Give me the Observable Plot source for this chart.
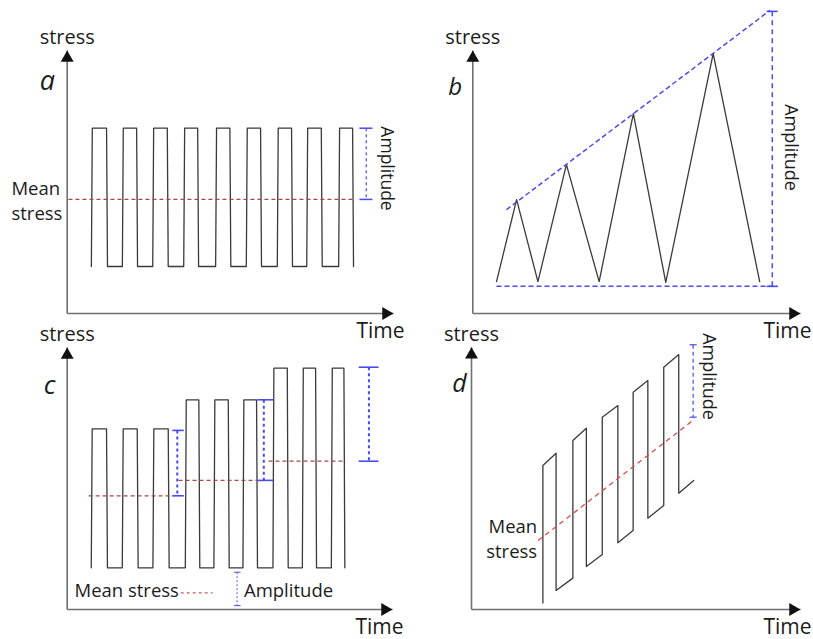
<!DOCTYPE html>
<html><head><meta charset="utf-8">
<script src="https://cdn.jsdelivr.net/npm/d3@7"></script>
<script src="https://cdn.jsdelivr.net/npm/@observablehq/plot@0.6"></script>
<style>
body{margin:0;background:#fff;}
#fig{position:relative;width:813px;height:639px;overflow:hidden;background:#fff;}
</style></head><body><div id="fig"></div>
<script>
// ---------------- DATA ----------------
// Panel a: constant-amplitude square wave (time in cycles, stress normalised)
const aRise = [0.81, 1.81, 2.79, 3.79, 4.82, 5.81, 6.81, 7.76, 8.79];
const aFall = [1.27, 2.24, 3.23, 4.21, 5.25, 6.24, 7.24, 8.20, 9.21];
const aTop = 1, aBottom = -1, aMean = -0.03;
const aMeanSpan = [0.04, 9.2];
const aAmpT = 9.65, aAmpCap = [9.43, 9.85];

// Panel b: triangular wave with growing peaks
const bT = [0.79, 1.46, 2.17, 3.12, 4.21, 5.35, 6.43, 8.01, 9.56];
const bS = [0.04, 3.62, 0.04, 5.15, 0.04, 7.38, 0, 10.0, 0.04];
const bEnvT = [1.12, 9.9], bEnvS = [3.18, 11.89];
const bBase = -0.17, bBaseSpan = [0.79, 10.15];
const bAmpT = 9.98, bAmpTop = 11.85, bAmpCap = [9.79, 10.16];

// Panel c: block loading, three stress levels
const cRise = [0.806, 1.806, 2.794, 3.839, 4.761, 5.697, 6.665, 7.613, 8.548];
const cFall = [1.268, 2.258, 3.258, 4.245, 5.194, 6.106, 7.097, 8.010, 8.923];
const cTop = [6.95, 6.95, 6.95, 8.4, 8.4, 8.4, 9.98, 9.98, 9.98];
const cBottom = 0;
const cMeanLevel = [3.6, 4.37, 5.33];
const cMeanFrom = [0.69, 3.59, 6.49];
const cMeanTo = [3.43, 6.14, 8.98];
const cAmpT = [3.55, 6.34, 9.73];
const cAmpTop = [6.87, 8.4, 10.03];
const cAmpCapL = [3.39, 6.13, 9.40];
const cAmpCapR = [3.76, 6.65, 10.04];

// Panel d: square wave on a rising mean
const dT = [2.38, 2.38, 2.82, 2.82, 3.38, 3.38, 3.83, 3.83, 4.36, 4.36, 4.88, 4.88, 5.39, 5.39, 5.88, 5.88, 6.41, 6.41, 6.91, 6.91, 7.41];
const dS = [0.32, 7.2, 7.82, 0.95, 1.57, 8.45, 9.07, 2.15, 2.75, 9.62, 10.2, 3.34, 3.95, 10.87, 11.45, 4.57, 5.2, 12.12, 12.75, 5.82, 6.45];
const dMeanT = [2.22, 7.41], dMeanS = [3.45, 9.49];
const dAmpT = 7.39, dAmpS = [13.24, 9.62], dAmpCap = [7.27, 7.51];

// labels
const panelLetters = ["a", "b", "c", "d"];
const axisY = "stress", axisX = "Time";
const meanLabel = "Mean stress", ampLabel = "Amplitude";

// ---------------- STYLE ----------------
const FONT = "'Open Sans', 'DejaVu Sans', sans-serif";
const INK = "#1c1c1c", WAVE = "#3a3a3a", AXIS = "#707070";
const BLUE = "#4a4af2", BROWN = "#a84848", RED = "#dd4a4a";

function square(rise, fall, top, bottom, slant) {
  const pts = [];
  rise.forEach((r, i) => {
    const hi = Array.isArray(top) ? top[i] : top;
    pts.push({t: r - slant, s: bottom}, {t: r, s: hi}, {t: fall[i], s: hi}, {t: fall[i] + slant, s: bottom});
  });
  return pts;
}

function axes(xMax, yMin, yMax, letter, lx, ly, letterSize) {
  return [
    Plot.link([{x1: 0, y1: yMin, x2: 0, y2: yMax}], {x1: "x1", y1: "y1", x2: "x2", y2: "y2", stroke: AXIS, strokeWidth: 1.6}),
    Plot.link([{x1: 0, y1: yMin, x2: xMax, y2: yMin}], {x1: "x1", y1: "y1", x2: "x2", y2: "y2", stroke: AXIS, strokeWidth: 1.6}),
    Plot.dot([{x: 0, y: yMax}], {x: "x", y: "y", symbol: "triangle", r: 4.8, fill: "#111", stroke: "none", dy: 7.5}),
    Plot.dot([{x: xMax, y: yMin}], {x: "x", y: "y", symbol: "triangle", r: 4.8, fill: "#111", stroke: "none", rotate: 90, dx: -7.5}),
    Plot.text([axisY], {x: () => 0, y: () => yMax, text: d => d, dy: -13, fontSize: 20, fill: INK, fontFamily: FONT}),
    Plot.text([axisX], {x: () => xMax, y: () => yMin, text: d => d, dx: -13, dy: 18, fontSize: 21, fill: INK, fontFamily: FONT}),
    Plot.text([letter], {x: () => lx, y: () => ly, text: d => d, fontSize: letterSize, fontStyle: "italic", fill: INK, fontFamily: FONT})
  ];
}

function panel(o) {
  const svg = Plot.plot({
    width: o.width, height: o.height,
    marginLeft: o.ml, marginRight: o.mr, marginTop: o.mt, marginBottom: o.mb,
    x: {domain: o.xd, axis: null},
    y: {domain: o.yd, axis: null},
    style: {position: "absolute", left: o.left + "px", top: o.top + "px", overflow: "visible", background: "transparent", fontFamily: FONT},
    marks: o.marks
  });
  document.getElementById("fig").appendChild(svg);
}

const lk = {x1: "x1", y1: "y1", x2: "x2", y2: "y2"};

// ---------------- PANEL A ----------------
{
  const xd = [0, 10.53], yd = [-1.68, 2.124];
  panel({left: 0, top: 0, width: 410, height: 320, ml: 66.7, mr: 17, mt: 50, mb: 7, xd, yd, marks: [
    ...axes(xd[1], yd[0], yd[1], panelLetters[0], -0.64, 1.675, 27),
    Plot.line(square(aRise, aFall, aTop, aBottom, 0.03), {x: "t", y: "s", stroke: WAVE, strokeWidth: 1.3}),
    Plot.link([{x1: aMeanSpan[0], y1: aMean, x2: aMeanSpan[1], y2: aMean}], {...lk, stroke: BROWN, strokeWidth: 1.2, strokeDasharray: "4,3"}),
    Plot.link([{x1: aAmpT, y1: aTop, x2: aAmpT, y2: aMean}], {...lk, stroke: BLUE, strokeWidth: 1.2, strokeDasharray: "3,3"}),
    Plot.link([aTop, aMean].map(v => ({x1: aAmpCap[0], y1: v, x2: aAmpCap[1], y2: v})), {...lk, stroke: BLUE, strokeWidth: 1.5}),
    Plot.text([ampLabel], {x: () => 10.32, y: () => 0.417, text: d => d, rotate: 90, fontSize: 17.5, fill: INK, fontFamily: FONT}),
    Plot.text(["Mean\nstress"], {x: () => -1.8, y: () => aMean, text: d => d, textAnchor: "start", lineHeight: 1.35, fontSize: 18.5, fill: INK, fontFamily: FONT})
  ]});
}

// ---------------- PANEL B ----------------
{
  const xd = [0, 10.92], yd = [-1.356, 10.14];
  panel({left: 406, top: 0, width: 407, height: 320, ml: 66.3, mr: 13, mt: 50, mb: 7, xd, yd, marks: [
    ...axes(xd[1], yd[0], yd[1], panelLetters[1], -0.59, 8.53, 24),
    Plot.line(bT.map((t, i) => ({t, s: bS[i]})), {x: "t", y: "s", stroke: WAVE, strokeWidth: 1.3}),
    Plot.link([{x1: bEnvT[0], y1: bEnvS[0], x2: bEnvT[1], y2: bEnvS[1]}], {...lk, stroke: BLUE, strokeWidth: 1.5, strokeDasharray: "5,3"}),
    Plot.link([{x1: bBaseSpan[0], y1: bBase, x2: bBaseSpan[1], y2: bBase}], {...lk, stroke: BLUE, strokeWidth: 1.5, strokeDasharray: "5,3"}),
    Plot.link([{x1: bAmpT, y1: bBase, x2: bAmpT, y2: bAmpTop}], {...lk, stroke: BLUE, strokeWidth: 1.5, strokeDasharray: "5,4"}),
    Plot.link([bAmpTop, bBase].map(v => ({x1: bAmpCap[0], y1: v, x2: bAmpCap[1], y2: v})), {...lk, stroke: BLUE, strokeWidth: 1.6}),
    Plot.text([ampLabel], {x: () => 10.59, y: () => 5.9, text: d => d, rotate: 90, fontSize: 18, fill: INK, fontFamily: FONT})
  ]});
}

// ---------------- PANEL C ----------------
{
  const xd = [0, 10.49], yd = [-2.085, 11.015];
  const means = cMeanLevel.map((v, i) => ({x1: cMeanFrom[i], y1: v, x2: cMeanTo[i], y2: v}));
  const ampV = cAmpT.map((t, i) => ({x1: t, y1: cAmpTop[i], x2: t, y2: cMeanLevel[i]}));
  const ampC = cAmpT.flatMap((t, i) => [cAmpTop[i], cMeanLevel[i]].map(v => ({x1: cAmpCapL[i], y1: v, x2: cAmpCapR[i], y2: v})));
  panel({left: 0, top: 320, width: 410, height: 319, ml: 66.7, mr: 18, mt: 27, mb: 30, xd, yd, marks: [
    ...axes(xd[1], yd[0], yd[1], panelLetters[2], -0.57, 9.12, 26),
    Plot.line(square(cRise, cFall, cTop, cBottom, 0.03), {x: "t", y: "s", stroke: WAVE, strokeWidth: 1.3}),
    Plot.link(means, {...lk, stroke: BROWN, strokeWidth: 1.2, strokeDasharray: "4,3"}),
    Plot.link(ampV, {...lk, stroke: BLUE, strokeWidth: 2, strokeDasharray: "3,3"}),
    Plot.link(ampC, {...lk, stroke: BLUE, strokeWidth: 1.6}),
    // legend
    Plot.text([meanLabel], {x: () => 0.235, y: () => -1.14, text: d => d, textAnchor: "start", fontSize: 18.5, fill: INK, fontFamily: FONT}),
    Plot.link([{x1: 3.66, y1: -1.25, x2: 4.69, y2: -1.25}], {...lk, stroke: "#c06060", strokeWidth: 1.2, strokeDasharray: "3,3"}),
    Plot.link([{x1: 5.48, y1: -0.22, x2: 5.48, y2: -1.89}], {...lk, stroke: BLUE, strokeWidth: 0.9, strokeDasharray: "2,2"}),
    Plot.link([-0.22, -1.89].map(v => ({x1: 5.38, y1: v, x2: 5.59, y2: v})), {...lk, stroke: BLUE, strokeWidth: 1}),
    Plot.text([ampLabel], {x: () => 5.70, y: () => -1.14, text: d => d, textAnchor: "start", fontSize: 18.5, fill: INK, fontFamily: FONT})
  ]});
}

// ---------------- PANEL D ----------------
{
  const xd = [0, 10.97], yd = [0, 13.12];
  panel({left: 406, top: 320, width: 407, height: 319, ml: 65, mr: 13, mt: 26.7, mb: 30, xd, yd, marks: [
    ...axes(xd[1], yd[0], yd[1], panelLetters[3], -0.4, 11.3, 25),
    Plot.line(dT.map((t, i) => ({t, s: dS[i]})), {x: "t", y: "s", stroke: WAVE, strokeWidth: 1.3}),
    Plot.link([{x1: dMeanT[0], y1: dMeanS[0], x2: dMeanT[1], y2: dMeanS[1]}], {...lk, stroke: RED, strokeWidth: 1.3, strokeDasharray: "5,4"}),
    Plot.link([{x1: dAmpT, y1: dAmpS[0], x2: dAmpT, y2: dAmpS[1]}], {...lk, stroke: BLUE, strokeWidth: 1.2, strokeDasharray: "4,3"}),
    Plot.link(dAmpS.map(v => ({x1: dAmpCap[0], y1: v, x2: dAmpCap[1], y2: v})), {...lk, stroke: BLUE, strokeWidth: 1.2}),
    Plot.text([ampLabel], {x: () => 7.91, y: () => 11.65, text: d => d, rotate: 90, fontSize: 18, fill: INK, fontFamily: FONT}),
    Plot.text(["Mean\nstress"], {x: () => 2.19, y: () => 3.58, text: d => d, textAnchor: "end", lineHeight: 1.35, fontSize: 18.5, fill: INK, fontFamily: FONT})
  ]});
}
</script></body></html>
